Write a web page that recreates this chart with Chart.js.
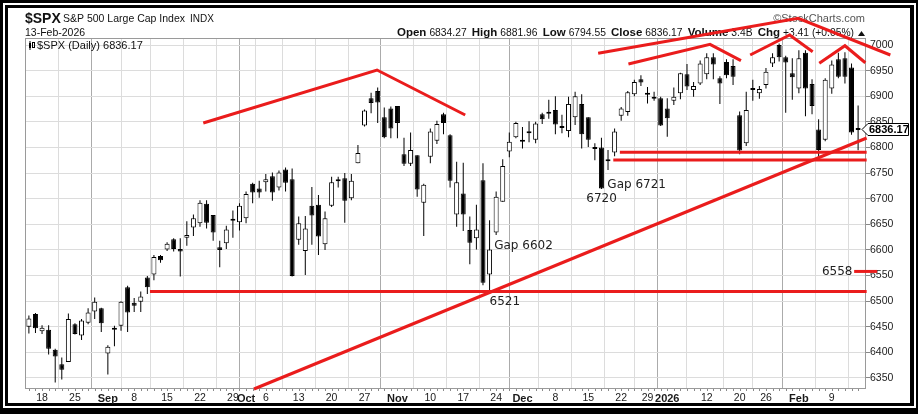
<!DOCTYPE html>
<html><head><meta charset="utf-8">
<script src="https://cdn.jsdelivr.net/npm/chart.js@4.4.1/dist/chart.umd.min.js"></script>
<style>html,body{margin:0;padding:0;background:#fff;overflow:hidden}#wrap{width:918px;height:414px;position:relative}</style>
</head><body><div id="wrap"><canvas id="c" width="918" height="414"></canvas></div>
<script>
// ---------------- data ----------------
const days = [
'08-14','08-15','08-18','08-19','08-20','08-21','08-22','08-25','08-26','08-27','08-28','08-29',
'09-02','09-03','09-04','09-05','09-08','09-09','09-10','09-11','09-12','09-15','09-16','09-17','09-18','09-19','09-22','09-23','09-24','09-25','09-26','09-29','09-30',
'10-01','10-02','10-03','10-06','10-07','10-08','10-09','10-10','10-13','10-14','10-15','10-16','10-17','10-20','10-21','10-22','10-23','10-24','10-27','10-28','10-29','10-30','10-31',
'11-03','11-04','11-05','11-06','11-07','11-10','11-11','11-12','11-13','11-14','11-17','11-18','11-19','11-20','11-21','11-24','11-25','11-26','11-28',
'12-01','12-02','12-03','12-04','12-05','12-08','12-09','12-10','12-11','12-12','12-15','12-16','12-17','12-18','12-19','12-22','12-23','12-24','12-26','12-29','12-30','12-31',
'01-02','01-05','01-06','01-07','01-08','01-09','01-12','01-13','01-14','01-15','01-16','01-20','01-21','01-22','01-23','01-26','01-27','01-28','01-29','01-30',
'02-02','02-03','02-04','02-05','02-06','02-09','02-10','02-11','02-12','02-13'];

const opens = [
6450,6475,6441,6444,6405,6377,6381,6455,6433,6458,6480,6486,
6398,6444,6452,6527,6497,6499,6546,6552,6588,6601,6621,6602,6624,6644,6652,6690,6668,6605,6613,6657,6654,
6662,6729,6720,6732,6744,6722,6757,6738,6620,6598,6686,6688,6611,6686,6737,6740,6701,6769,6843,6896,6910,6859,6876,
6881,6787,6768,6785,6692,6782,6813,6865,6824,6669,6710,6639,6623,6736,6552,6634,6694,6792,6820,
6813,6831,6815,6865,6866,6873,6838,6832,6859,6885,6859,6800,6800,6776,6790,6862,6869,6904,6933,6905,6898,6896,
6876,6891,6906,6943,6912,6925,6943,6976,6935,6967,6959,6863,6808,6914,6906,6922,6964,7000,6976,6945,
6915,6985,6924,6835,6815,6915,6972,6974,6956,6834.27];
const highs = [
6472,6477,6453,6453,6407,6390,6476,6457,6465,6486,6507,6487,
6414,6452,6500,6530,6506,6519,6549,6590,6590,6615,6623,6623,6656,6669,6697,6697,6668,6618,6647,6677,6691,
6714,6731,6735,6748,6751,6755,6761,6759,6665,6666,6723,6707,6675,6743,6743,6750,6748,6805,6874,6907,6917,6878,6880,
6881,6819,6829,6785,6729,6837,6852,6868,6826,6772,6770,6665,6688,6769,6658,6714,6777,6829,6850,
6840,6851,6850,6868,6893,6900,6864,6899,6909,6904,6859,6808,6819,6795,6837,6879,6910,6932,6941,6918,6909,6899,
6896,6917,6946,6963,6928,6970,6984,6984,6939,6972,6972,6870,6909,6932,6920,6955,6984,7003,6979,6974,
6990,6990,6933,6855,6935,6970,6985,6986,6964,6881.96];
const lows = [
6437,6438,6436,6396,6341,6347,6381,6435,6424,6455,6465,6440,
6357,6412,6442,6440,6479,6479,6514,6541,6575,6598,6597,6548,6608,6627,6645,6642,6618,6566,6602,6624,6638,
6652,6691,6702,6714,6696,6716,6714,6548,6610,6551,6610,6590,6600,6684,6722,6653,6697,6769,6841,6867,6848,6818,6818,
6818,6764,6764,6704,6627,6769,6807,6826,6722,6645,6637,6572,6601,6531,6521,6629,6694,6781,6818,
6798,6810,6808,6846,6856,6826,6828,6820,6844,6798,6801,6775,6719,6756,6783,6852,6862,6900,6920,6886,6891,6842,
6821,6883,6894,6912,6899,6922,6933,6933,6885,6935,6922,6787,6803,6891,6895,6915,6957,6968,6868,6893,
6906,6861,6865,6777,6812,6905,6935,6925,6825,6794.55];
const closes = [
6466,6447,6448,6407,6392,6366,6465,6436,6462,6478,6499,6457,
6411,6447,6499,6478,6491,6509,6527,6586,6580,6612,6602,6597,6629,6662,6692,6653,6634,6600,6640,6660,6686,
6709,6712,6712,6738,6712,6751,6731,6549,6652,6642,6667,6626,6662,6732,6734,6696,6735,6789,6872,6887,6888,6820,6837,
6848,6768,6795,6718,6727,6831,6846,6848,6735,6732,6669,6614,6640,6536,6601,6704,6764,6811,6848,
6811,6828,6847,6855,6869,6845,6840,6885,6900,6826,6815,6797,6720,6773,6831,6876,6908,6928,6927,6903,6895,6843,
6857,6899,6945,6919,6920,6964,6976,6962,6925,6941,6938,6794,6873,6912,6914,6948,6976,6976,6966,6937,
6974,6915,6881,6795,6932,6962,6938,6938,6829,6836.17];

const xTickDays   = ['08-18','08-25','09-02','09-08','09-15','09-22','09-29','10-01','10-06','10-13','10-20','10-27','11-03','11-10','11-17','11-24','12-01','12-08','12-15','12-22','12-29','01-02','01-12','01-20','01-26','02-02','02-09'];
const xTickLabels = ['18','25','Sep','8','15','22','29','Oct','6','13','20','27','Nov','10','17','24','Dec','8','15','22','29','2026','12','20','26','Feb','9'];
const monthLabels = ['Sep','Oct','Nov','Dec','2026','Feb'];
const yTicks = [6350,6400,6450,6500,6550,6600,6650,6700,6750,6800,6850,6900,6950,7000];

// trend lines drawn on the chart: [day index, price]
const trendOct   = [[26.5,6847.7],[52.9,6951.2],[66.3,6863.4]];
const support6519 = [[18.4,6519],[127.3,6519]];
const upTrend    = [[34.2,6328.5],[127.3,6818.5]];
const support6790 = [[89.8,6790.5],[127.3,6790.5]];
const support6775 = [[88.8,6775.5],[127.3,6775.5]];
const topBig     = [[86.5,6983.8],[116.9,7052],[130.9,6980.5]];
const topDec     = [[91.1,6963],[103.5,7001.4],[108.2,6969.4]];
const topJan     = [[109.6,6980.5],[115.6,7019.5],[119.1,6987]];
const topFeb     = [[120.1,6964.3],[124.0,6998.6],[127.1,6965.4]];
const mark6558   = [[125.4,6558],[128.9,6558]];

// text notes: [text, day index, price]
const notes = [['Gap 6602',70.7,6607.6],['6521',70.0,6499],['6720',84.7,6698.8],['Gap 6721',87.9,6726.7],['6558',120.5,6558]];

const headerStats = [['Open','6834.27'],['High','6881.96'],['Low','6794.55'],['Close','6836.17'],['Volume','3.4B'],['Chg','+3.41 (+0.05%)']];
const lastClose = closes[closes.length-1];

// ---------------- chart ----------------
const FONT = '"Liberation Sans", Arial, sans-serif';
Chart.defaults.font.family = FONT;
const RED = '#ea1c1c';

const xTickIdx = xTickDays.map(d => days.indexOf(d));
const wickData = days.map((d,i) => ({x:i, y:[lows[i], highs[i]]}));
const bodyData = days.map((d,i) => ({x:i, y:[Math.min(opens[i],closes[i]), Math.max(opens[i],closes[i])]}));
const bodyColors = days.map((d,i) => closes[i] >= opens[i] ? '#ffffff' : '#000000');
const toPts = arr => arr.map(p => ({x:p[0], y:p[1]}));
const lineDs = arr => ({type:'line', data:toPts(arr), borderColor:RED, borderWidth:3, pointRadius:0, fill:false, tension:0, clip:false, order:0});

const decor = {
  id:'decor',
  beforeDraw(chart){
    const c = chart.ctx;
    c.save();
    c.fillStyle='#000'; c.fillRect(0,0,918,414);
    c.fillStyle='#fff'; c.fillRect(3,3,913,405);
    c.fillStyle='#000'; c.fillRect(5,5,909,401);
    c.fillStyle='#fff'; c.fillRect(8,8,902,395);
    // title
    c.fillStyle='#111'; c.textBaseline='alphabetic'; c.textAlign='left';
    c.font='bold 14px '+FONT; c.fillText('$SPX',25,22.5);
    c.font='10.5px '+FONT; c.fillText('S&P 500 Large Cap Index',63,22);
    c.font='10px '+FONT; c.fillText('INDX',190,22);
    c.font='10.5px '+FONT; c.fillText('13-Feb-2026',25,35.5);
    // copyright
    c.fillStyle='#555'; c.font='11px '+FONT; c.textAlign='right';
    c.fillText('\u00A9StockCharts.com',865,22);
    // stats
    c.textAlign='left'; c.fillStyle='#111';
    const lf='bold 11.5px '+FONT, vf='10.3px '+FONT;
    let total=0; const parts=[];
    headerStats.forEach(([l,v])=>{c.font=lf;const lw=c.measureText(l).width;c.font=vf;const vw=c.measureText(v).width;parts.push([l,v,lw,vw]);total+=lw+3+vw;});
    const triW=11; const gap=Math.max(3,(468-total-triW)/(parts.length-1));
    let x=397; const by=36;
    parts.forEach(([l,v,lw,vw])=>{c.font=lf;c.fillText(l,x,by);x+=lw+3;c.font=vf;c.fillText(v,x,by);x+=vw+gap;});
    x = x-gap+4;
    c.beginPath(); c.moveTo(x,by); c.lineTo(x+7,by); c.lineTo(x+3.5,by-5); c.closePath(); c.fill();
    c.restore();
  },
  beforeDatasetsDraw(chart){
    const c=chart.ctx, a=chart.chartArea, xs=chart.scales.x;
    c.save();
    c.strokeStyle='#9a9a9a'; c.lineWidth=1;
    c.strokeRect(a.left+0.5,a.top+0.5,a.right-a.left-1,a.bottom-a.top-1);
    c.strokeStyle='#8a8a8a';
    c.beginPath();
    days.forEach((d,i)=>{const px=Math.round(xs.getPixelForValue(i))+0.5;c.moveTo(px,a.bottom);c.lineTo(px,a.bottom+2);});
    c.stroke();
    c.restore();
  },
  afterDatasetsDraw(chart){
    const c=chart.ctx, xs=chart.scales.x, ys=chart.scales.y;
    c.save();
    // legend
    c.fillStyle='#000'; c.fillRect(29,43,2,5); c.fillRect(29.5,41,1,9);
    c.strokeStyle='#000'; c.lineWidth=1; c.strokeRect(32.5,42.5,2,5);
    c.font='11px '+FONT; c.textBaseline='middle'; c.textAlign='left'; c.fillStyle='#111';
    c.fillText('$SPX (Daily) '+lastClose.toFixed(2),37,46);
    // notes
    c.font='12px "DejaVu Sans", Verdana, sans-serif'; c.fillStyle='#222';
    notes.forEach(([t,i,v])=>c.fillText(t,xs.getPixelForValue(i),ys.getPixelForValue(v)));
    // price box
    const yv=Math.round(ys.getPixelForValue(lastClose))+0.5;
    c.beginPath(); c.moveTo(862,yv); c.lineTo(868,yv-6); c.lineTo(908.5,yv-6); c.lineTo(908.5,yv+6); c.lineTo(868,yv+6); c.closePath();
    c.fillStyle='#fff'; c.fill(); c.strokeStyle='#000'; c.lineWidth=1; c.stroke();
    c.fillStyle='#000'; c.font='bold 11px '+FONT; c.textBaseline='middle';
    c.fillText(lastClose.toFixed(2),869,yv+0.5);
    c.restore();
  }
};

new Chart(document.getElementById('c'), {
  type:'bar',
  data:{
    datasets:[
      lineDs(trendOct), lineDs(support6519), lineDs(upTrend), lineDs(support6790), lineDs(support6775),
      lineDs(topBig), lineDs(topDec), lineDs(topJan), lineDs(topFeb), lineDs(mark6558),
      {type:'bar', data:bodyData, backgroundColor:bodyColors, borderColor:'#000', borderWidth:1, borderSkipped:false,
       barThickness:5, minBarLength:2, grouped:false, inflateAmount:0, order:1},
      {type:'bar', data:wickData, backgroundColor:'#000', borderWidth:0, barThickness:1, grouped:false, inflateAmount:0, order:2}
    ]
  },
  options:{
    responsive:false, animation:false, devicePixelRatio:1, events:[],
    layout:{padding:{left:25, top:38, right:0, bottom:0}},
    plugins:{legend:{display:false}, tooltip:{enabled:false}},
    scales:{
      x:{type:'linear', min:-0.59, max:127.2, offset:false,
        afterBuildTicks:s=>{s.ticks=xTickIdx.map(v=>({value:v}));},
        afterFit:s=>{s.height=25;},
        grid:{color:ctx=>monthLabels.includes(xTickLabels[ctx.index])?'#ababab':'#dcdcdc', drawTicks:false, lineWidth:1},
        border:{display:false},
        ticks:{autoSkip:false, maxRotation:0, padding:3, color:'#1a1a1a',
          callback:(v,i)=>xTickLabels[i],
          font:ctx=>({family:FONT, size:monthLabels.includes(xTickLabels[ctx.index])?11:10.5, weight:monthLabels.includes(xTickLabels[ctx.index])?'bold':'normal'})}
      },
      y:{type:'linear', position:'right', min:6328.5, max:7013.7,
        afterBuildTicks:s=>{s.ticks=yTicks.map(v=>({value:v}));},
        afterFit:s=>{s.width=52;},
        grid:{color:'#dcdcdc', tickColor:'#888', tickLength:4, lineWidth:1},
        border:{display:false},
        ticks:{padding:0, color:'#1a1a1a', font:{family:FONT, size:10.5}, callback:v=>String(v)}
      }
    }
  },
  plugins:[decor]
});
</script>
</body></html>
